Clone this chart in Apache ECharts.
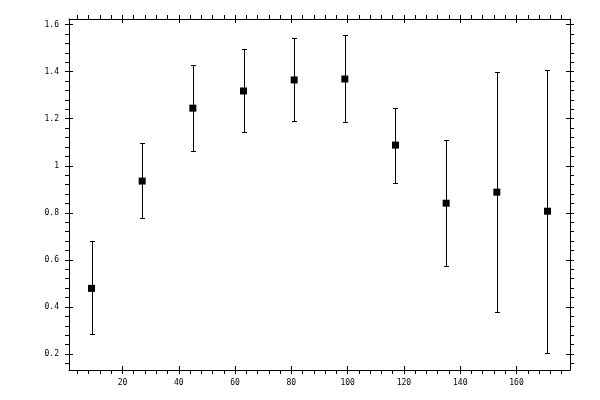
<!DOCTYPE html>
<html>
<head>
<meta charset="utf-8">
<script src="https://cdn.jsdelivr.net/npm/echarts@6/dist/echarts.min.js"></script>
<style>
html, body { margin: 0; padding: 0; background: #fff; }
#chart { width: 600px; height: 400px; }
</style>
</head>
<body>
<div id="chart"></div>
<script>
// data
var xValues = [9, 27, 45, 63, 81, 99, 117, 135, 153, 171];
var yValues = [0.479, 0.935, 1.245, 1.318, 1.365, 1.369, 1.088, 0.841, 0.888, 0.807];
var yLower = [0.285, 0.777, 1.062, 1.143, 1.190, 1.186, 0.926, 0.574, 0.377, 0.203];
var yUpper = [0.679, 1.095, 1.428, 1.497, 1.543, 1.556, 1.244, 1.109, 1.399, 1.407];

var xMajorTicks = [20, 40, 60, 80, 100, 120, 140, 160];
var xMinorTicks = [4, 8, 12, 16, 24, 28, 32, 36, 44, 48, 52, 56, 64, 68, 72, 76, 84, 88, 92, 96,
	104, 108, 112, 116, 124, 128, 132, 136, 144, 148, 152, 156, 164, 168, 172, 176];
var yMajorTicks = [0.2, 0.4, 0.6, 0.8, 1.0, 1.2, 1.4, 1.6];
var yMinorTicks = [0.16, 0.24, 0.28, 0.32, 0.36, 0.44, 0.48, 0.52, 0.56, 0.64, 0.68, 0.72, 0.76,
	0.84, 0.88, 0.92, 0.96, 1.04, 1.08, 1.12, 1.16, 1.24, 1.28, 1.32, 1.36, 1.44, 1.48, 1.52, 1.56];

var xMin = 1, xMax = 179;
var yMin = 0.132, yMax = 1.624;

var chart = echarts.init(document.getElementById('chart'));

var font = { fontFamily: 'DejaVu Sans Mono', fontSize: 8, color: '#000' };

function fmt(v) {
	return String(parseFloat(Number(v).toFixed(2)));
}

// one axis = line + outward ticks (major and minor), another = inward major ticks
function makeX(position, labels) {
	return [{
		type: 'value', position: position, min: xMin, max: xMax,
		axisLine: { show: true, onZero: false, lineStyle: { color: '#000', width: 1 } },
		axisTick: { show: true, inside: false, length: 4, customValues: xMajorTicks.concat(xMinorTicks),
			lineStyle: { color: '#000', width: 1 } },
		axisLabel: labels ? Object.assign({ show: true, margin: 9, customValues: xMajorTicks, formatter: fmt }, font) : { show: false },
		splitLine: { show: false }
	}, {
		type: 'value', position: position, min: xMin, max: xMax,
		axisLine: { show: false, onZero: false },
		axisTick: { show: true, inside: true, length: 4, customValues: xMajorTicks,
			lineStyle: { color: '#000', width: 1 } },
		axisLabel: { show: false },
		splitLine: { show: false }
	}];
}

function makeY(position, labels) {
	return [{
		type: 'value', position: position, min: yMin, max: yMax,
		axisLine: { show: true, onZero: false, lineStyle: { color: '#000', width: 1 } },
		axisTick: { show: true, inside: false, length: 4, customValues: yMajorTicks.concat(yMinorTicks),
			lineStyle: { color: '#000', width: 1 } },
		axisLabel: labels ? Object.assign({ show: true, margin: 10, customValues: yMajorTicks, formatter: fmt }, font) : { show: false },
		splitLine: { show: false }
	}, {
		type: 'value', position: position, min: yMin, max: yMax,
		axisLine: { show: false, onZero: false },
		axisTick: { show: true, inside: true, length: 4, customValues: yMajorTicks,
			lineStyle: { color: '#000', width: 1 } },
		axisLabel: { show: false },
		splitLine: { show: false }
	}];
}

var points = [];
var bars = [];
for (var i = 0; i < xValues.length; i++) {
	points.push([xValues[i], yValues[i]]);
	bars.push([xValues[i], yLower[i], yUpper[i]]);
}

// error bar with caps
function renderBar(params, api) {
	var lo = api.coord([api.value(0), api.value(1)]);
	var hi = api.coord([api.value(0), api.value(2)]);
	var x = Math.round(lo[0]) + 0.5;
	var y1 = Math.round(lo[1]) + 0.5;
	var y2 = Math.round(hi[1]) + 0.5;
	var cap = 2.5;
	var style = { stroke: '#000', lineWidth: 1 };
	return {
		type: 'group',
		children: [
			{ type: 'line', shape: { x1: x, y1: y1, x2: x, y2: y2 }, style: style },
			{ type: 'line', shape: { x1: x - cap, y1: y1, x2: x + cap, y2: y1 }, style: style },
			{ type: 'line', shape: { x1: x - cap, y1: y2, x2: x + cap, y2: y2 }, style: style }
		]
	};
}

var option = {
	backgroundColor: '#fff',
	animation: false,
	grid: { left: 69, top: 19, right: 30, bottom: 30, containLabel: false },
	xAxis: makeX('bottom', true).concat(makeX('top', false)),
	yAxis: makeY('left', true).concat(makeY('right', false)),
	series: [{
		type: 'custom',
		xAxisIndex: 0,
		yAxisIndex: 0,
		renderItem: renderBar,
		encode: { x: 0, y: [1, 2] },
		data: bars,
		z: 2
	}, {
		type: 'scatter',
		xAxisIndex: 0,
		yAxisIndex: 0,
		symbol: 'rect',
		symbolSize: 7,
		itemStyle: { color: '#000', opacity: 1 },
		data: points,
		z: 3
	}]
};
chart.setOption(option);
</script>
</body>
</html>
